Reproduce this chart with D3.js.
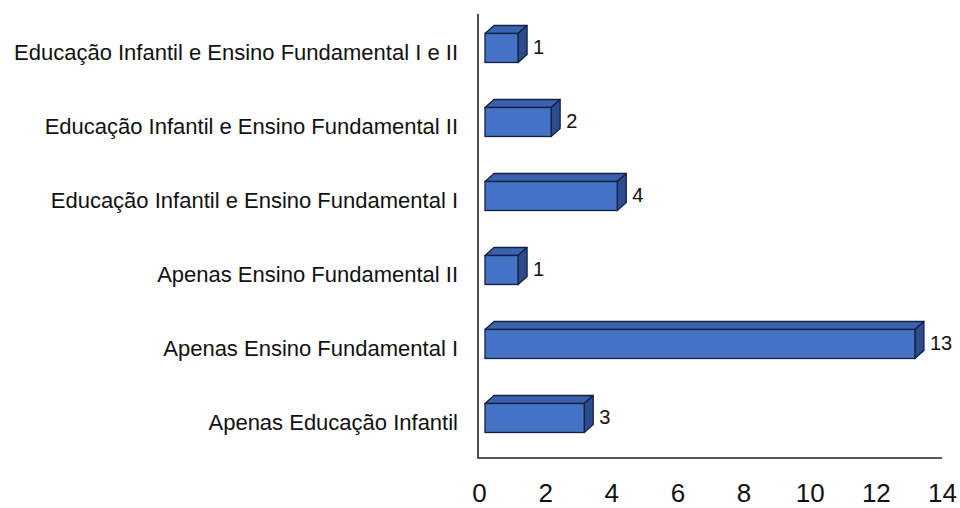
<!DOCTYPE html>
<html>
<head>
<meta charset="utf-8">
<script src="https://cdn.jsdelivr.net/npm/d3@7/dist/d3.min.js"></script>
<style>
  html, body { margin: 0; padding: 0; background: #fff; }
  svg { display: block; font-family: "Liberation Sans", Arial, sans-serif; }
</style>
</head>
<body>
<svg id="chart" width="960" height="508"></svg>
<script>
// Categories, top to bottom
const categories = [
  "Educação Infantil e Ensino Fundamental I e II",
  "Educação Infantil e Ensino Fundamental II",
  "Educação Infantil e Ensino Fundamental I",
  "Apenas Ensino Fundamental II",
  "Apenas Ensino Fundamental I",
  "Apenas Educação Infantil"
];
const values = [1, 2, 4, 1, 13, 3];
const tickValues = [0, 2, 4, 6, 8, 10, 12, 14];

const svg = d3.select("#chart");

const axisX = 478, axisTop = 14, axisBottom = 458;
const x = d3.scaleLinear().domain([0, 14]).range([479, 942]);
const y = d3.scaleBand().domain(categories).range([axisTop, axisBottom]);

const barGap = 6;      // space between the axis and the bar
const faceH = 29;      // height of the front face
const dx = 9, dy = 8;  // 3D depth offset

const colFront = "#4472c4", colTop = "#3a62b0", colSide = "#2c4c8e", colEdge = "#15203f";

const rows = categories.map((c, i) => ({ cat: c, v: values[i] }));

const g = svg.append("g");
rows.forEach(d => {
  const cy = y(d.cat) + y.bandwidth() / 2 - 3;
  const x0 = x(0) + barGap;
  const x1 = x0 + (x(d.v) - x(0));
  const y0 = cy - faceH / 2, y1 = cy + faceH / 2;
  const bar = g.append("g");
  // top face
  bar.append("path")
    .attr("d", `M${x0},${y0} L${x0 + dx},${y0 - dy} L${x1 + dx},${y0 - dy} L${x1},${y0} Z`)
    .attr("fill", colTop).attr("stroke", colEdge).attr("stroke-width", 1.3).attr("stroke-linejoin", "round");
  // side face
  bar.append("path")
    .attr("d", `M${x1},${y0} L${x1 + dx},${y0 - dy} L${x1 + dx},${y1 - dy} L${x1},${y1} Z`)
    .attr("fill", colSide).attr("stroke", colEdge).attr("stroke-width", 1.3).attr("stroke-linejoin", "round");
  // front face
  bar.append("rect")
    .attr("x", x0).attr("y", y0).attr("width", x1 - x0).attr("height", faceH)
    .attr("fill", colFront).attr("stroke", colEdge).attr("stroke-width", 1.3);
  // value label
  g.append("text")
    .attr("x", x1 + dx + 6).attr("y", cy + 1)
    .attr("dominant-baseline", "middle")
    .attr("font-size", 20).attr("fill", "#111")
    .text(d.v);
  // category label
  g.append("text")
    .attr("x", 458).attr("y", y(d.cat) + y.bandwidth() / 2 + 3)
    .attr("text-anchor", "end").attr("dominant-baseline", "middle")
    .attr("font-size", 22).attr("fill", "#111")
    .text(d.cat);
});

// axes lines
svg.append("path")
  .attr("d", `M${axisX},${axisTop} L${axisX},${axisBottom} L942,${axisBottom}`)
  .attr("fill", "none").attr("stroke", "#222").attr("stroke-width", 1.6);

// x tick labels
const xAxis = d3.axisBottom(x).tickValues(tickValues).tickSize(0).tickPadding(0);
const ax = svg.append("g").attr("transform", `translate(0,502)`).call(xAxis);
ax.select(".domain").remove();
ax.selectAll("text")
  .attr("dy", 0)
  .attr("font-family", "Liberation Sans, Arial, sans-serif")
  .attr("font-size", 26).attr("fill", "#111");
</script>
</body>
</html>
